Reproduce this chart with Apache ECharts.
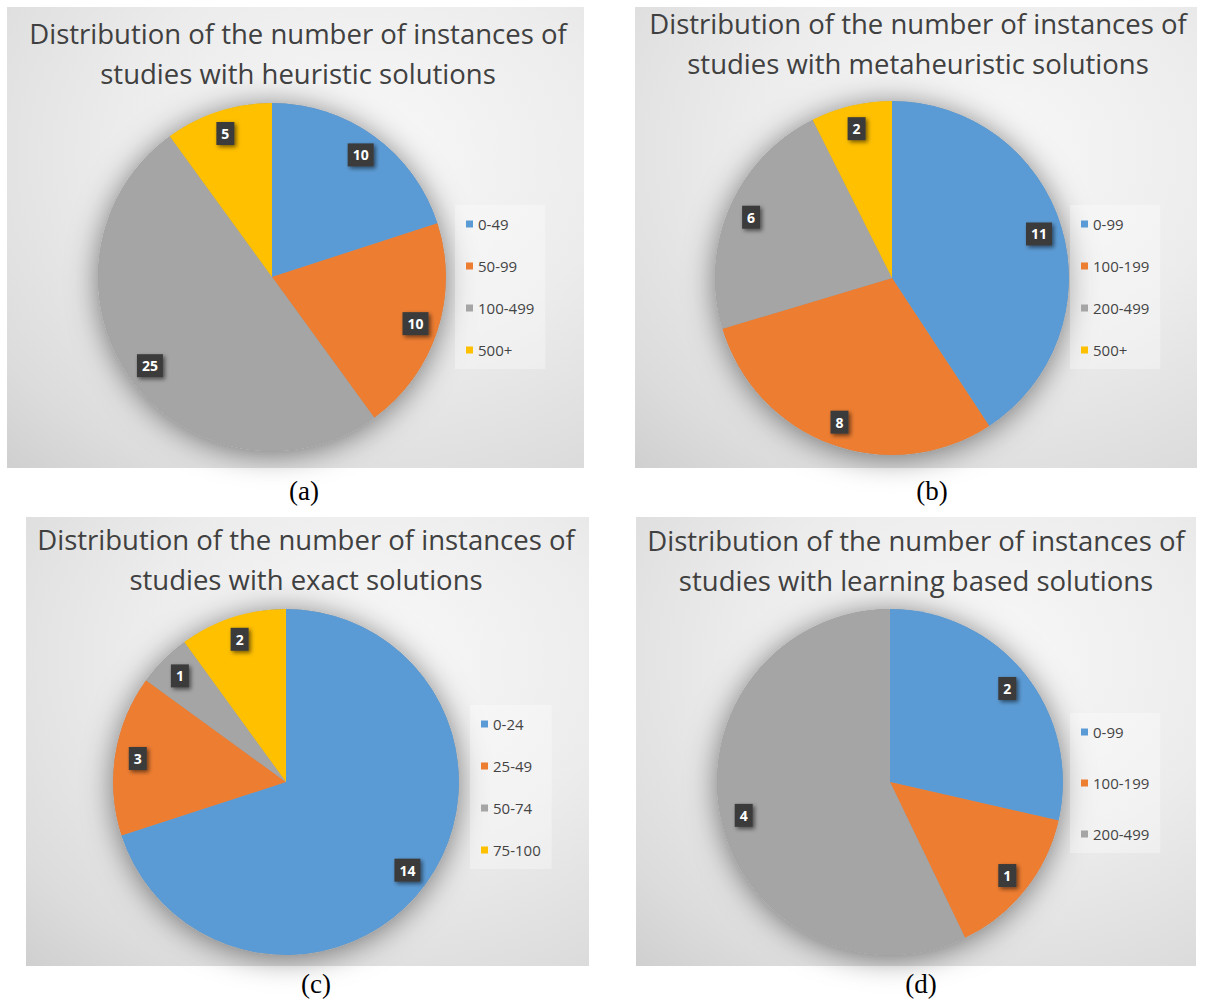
<!DOCTYPE html>
<html>
<head>
<meta charset="utf-8">
<script src="https://cdn.jsdelivr.net/npm/echarts@6/dist/echarts.min.js"></script>
<style>
  html, body { margin: 0; padding: 0; background: #ffffff; }
  #chart { width: 1205px; height: 1001px; }
</style>
</head>
<body>
<div id="chart"></div>
<script>
// Office-style slice palette
const sliceColors = ['#5b9bd5', '#ed7d31', '#a5a5a5', '#ffc000'];

// (a) heuristic solutions
const heuristicRanges = ['0-49', '50-99', '100-499', '500+'];
const heuristicCounts = [10, 10, 25, 5];

// (b) metaheuristic solutions
const metaheuristicRanges = ['0-99', '100-199', '200-499', '500+'];
const metaheuristicCounts = [11, 8, 6, 2];

// (c) exact solutions
const exactRanges = ['0-24', '25-49', '50-74', '75-100'];
const exactCounts = [14, 3, 1, 2];

// (d) learning based solutions
const learningRanges = ['0-99', '100-199', '200-499'];
const learningCounts = [2, 1, 4];

const panelTitles = [
  'Distribution of the number of instances of\nstudies with heuristic solutions',
  'Distribution of the number of instances of\nstudies with metaheuristic solutions',
  'Distribution of the number of instances of\nstudies with exact solutions',
  'Distribution of the number of instances of\nstudies with learning based solutions'
];
const panelCaptions = ['(a)', '(b)', '(c)', '(d)'];

// Page layout of the four panels (pixels)
const layout = [
  { box: [7, 7, 577, 461], center: [272, 277], r: 174, titleX: 298, titleTop: 13,
    legend: [455, 205, 26], caption: [304, 491] },
  { box: [635, 7, 562, 461], center: [892, 278], r: 177, titleX: 918, titleTop: 3,
    legend: [1070, 205, 26], caption: [932, 491] },
  { box: [26, 517, 563, 449], center: [286, 782], r: 173, titleX: 306, titleTop: 519,
    legend: [470, 705, 26], caption: [316, 984] },
  { box: [636, 517, 560, 449], center: [890, 782], r: 173, titleX: 916, titleTop: 520,
    legend: [1070, 713, 35], caption: [921, 984] }
];

const panelData = [
  { ranges: heuristicRanges, counts: heuristicCounts },
  { ranges: metaheuristicRanges, counts: metaheuristicCounts },
  { ranges: exactRanges, counts: exactCounts },
  { ranges: learningRanges, counts: learningCounts }
];

const uiFont = 'Open Sans';
const series = [];
const legends = [];
const titles = [];
const graphics = [];

panelData.forEach(function (pd, i) {
  const L = layout[i];
  const slices = pd.ranges.map(function (name, k) {
    return { name: name, value: pd.counts[k], itemStyle: { color: sliceColors[k] } };
  });
  const total = pd.counts.reduce(function (s, v) { return s + v; }, 0);

  // panel background with soft radial shading
  graphics.push({
    type: 'rect', z: -10, silent: true,
    shape: { x: L.box[0], y: L.box[1], width: L.box[2], height: L.box[3] },
    style: {
      fill: {
        type: 'radial', x: 0.62, y: 0.32, r: 0.95,
        colorStops: [
          { offset: 0, color: '#f8f8f8' },
          { offset: 0.45, color: '#ececec' },
          { offset: 0.8, color: '#dcdcdc' },
          { offset: 1, color: '#cdcdcd' }
        ]
      }
    }
  });
  // caption below the panel
  graphics.push({
    type: 'text', z: 5, silent: true,
    style: {
      x: L.caption[0], y: L.caption[1], text: panelCaptions[i],
      font: '27px "Liberation Serif", "Times New Roman", serif',
      fill: '#000', textAlign: 'center', textVerticalAlign: 'middle'
    }
  });

  titles.push({
    text: panelTitles[i], left: L.titleX, top: L.titleTop, textAlign: 'center', padding: 0,
    textStyle: { fontFamily: uiFont, fontSize: 27.5, fontWeight: 'normal', color: '#404040', lineHeight: 40 }
  });

  legends.push({
    data: pd.ranges, orient: 'vertical', left: L.legend[0], top: L.legend[1],
    itemGap: L.legend[2], itemWidth: 7, itemHeight: 7, icon: 'rect',
    padding: [11, 11, 11, 11], backgroundColor: 'rgba(255,255,255,0.32)',
    selectedMode: false,
    textStyle: { fontFamily: uiFont, fontSize: 15, color: '#444444', lineHeight: 16 }
  });

  // soft drop shadow beneath the pie
  series.push({
    type: 'pie', silent: true, animation: false, center: L.center, radius: [0, L.r],
    data: [{ name: 'all', value: total }], label: { show: false }, labelLine: { show: false },
    itemStyle: { color: '#9a9a9a', shadowBlur: 30, shadowColor: 'rgba(0,0,0,0.5)', shadowOffsetX: 0, shadowOffsetY: 3 }
  });
  // slices
  series.push({
    type: 'pie', silent: true, animation: false, center: L.center, radius: [0, L.r],
    startAngle: 90, clockwise: true, data: slices,
    label: { show: false }, labelLine: { show: false }, itemStyle: { borderWidth: 0 }
  });
  // value labels placed in the outer band of each slice
  series.push({
    type: 'pie', silent: true, animation: false, center: L.center, radius: [L.r * 0.7, L.r],
    startAngle: 90, clockwise: true,
    data: pd.ranges.map(function (name, k) { return { name: name, value: pd.counts[k] }; }),
    itemStyle: { color: 'rgba(0,0,0,0)', borderWidth: 0 },
    labelLine: { show: false },
    label: {
      show: true, position: 'inside', formatter: '{c}', color: '#ffffff',
      fontFamily: uiFont, fontWeight: 'bold', fontSize: 14, lineHeight: 16,
      backgroundColor: '#3b3b3b', padding: [4, 5, 3, 5],
      shadowBlur: 4, shadowColor: 'rgba(0,0,0,0.55)', shadowOffsetX: 2, shadowOffsetY: 2
    }
  });
});

const chart = echarts.init(document.getElementById('chart'), null, { renderer: 'svg' });
chart.setOption({
  animation: false,
  backgroundColor: '#ffffff',
  title: titles,
  legend: legends,
  graphic: graphics,
  series: series
});
</script>
</body>
</html>
